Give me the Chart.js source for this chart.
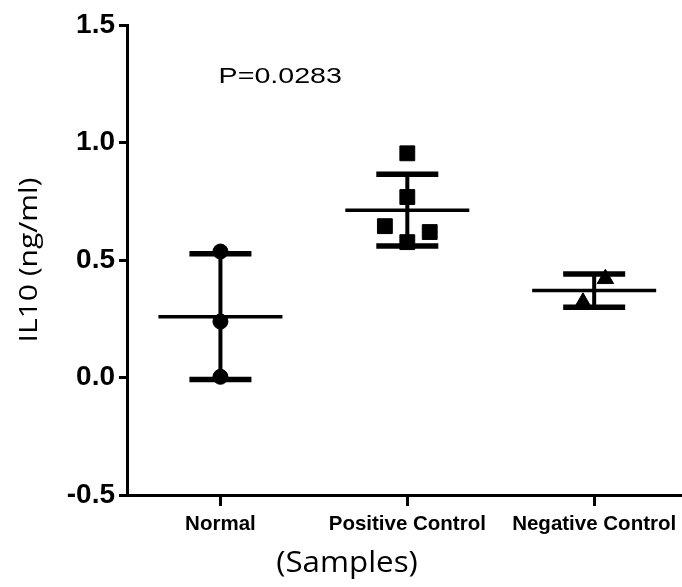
<!DOCTYPE html>
<html>
<head>
<meta charset="utf-8">
<title>IL10</title>
<script src="https://cdn.jsdelivr.net/npm/chart.js@4.4.1/dist/chart.umd.min.js"></script>
<style>
  html, body { margin: 0; padding: 0; background: #fff; }
  #wrap { width: 682px; height: 587px; position: relative; }
</style>
</head>
<body>
<div id="wrap"><canvas id="chartIL10"></canvas></div>
<script>
// IL10 per sample group (ng/ml)
const categories = ['Normal', 'Positive Control', 'Negative Control'];
const normalValues = [0.536, 0.238, 0.003];
const positiveValues = [0.954, 0.768, 0.644, 0.619, 0.576];
const negativeValues = [0.42, 0.32];
const yTicks = [-0.5, 0, 0.5, 1.0, 1.5];
const pValueText = 'P=0.0283';

const groups = [normalValues, positiveValues, negativeValues];
const markers = ['circle', 'rect', 'triangle'];
const markerSizes = [7.5, 10.5, 9.5];

// spread points that would overlap sideways (column scatter style)
let spread = (values, index) => {
  const minGap = 0.11, step = 0.12;
  const order = values.map((v, i) => i).sort((a, b) => values[a] - values[b]);
  const slots = new Array(values.length);
  const placed = [];
  order.forEach(i => {
    const tries = [0, 1, -1, 2, -2, 3, -3];
    const s = tries.find(t => !placed.some(p => p.slot === t && Math.abs(p.v - values[i]) < minGap));
    slots[i] = s;
    placed.push({ slot: s, v: values[i] });
  });
  const shift = (Math.min(...slots) + Math.max(...slots)) / 2;
  return values.map((v, i) => ({ x: index + (slots[i] - shift) * step, y: v }));
};

// mean line + SD whiskers for every group
const errorBars = {
  id: 'errorBars',
  afterDatasetsDraw(chart) {
    const { ctx, scales: { x, y } } = chart;
    ctx.save();
    ctx.strokeStyle = '#000';
    ctx.lineCap = 'butt';
    groups.forEach((vals, i) => {
      const mean = vals.reduce((a, b) => a + b, 0) / vals.length;
      const sd = Math.sqrt(vals.reduce((a, b) => a + (b - mean) ** 2, 0) / (vals.length - 1));
      const cx = x.getPixelForValue(i);
      const yTop = y.getPixelForValue(mean + sd);
      const yBot = y.getPixelForValue(mean - sd);
      const yMean = y.getPixelForValue(mean);
      const line = (x1, y1, x2, y2, w) => {
        ctx.lineWidth = w;
        ctx.beginPath();
        ctx.moveTo(x1, y1);
        ctx.lineTo(x2, y2);
        ctx.stroke();
      };
      line(cx, yTop, cx, yBot, 4);
      line(cx - 31, yTop, cx + 31, yTop, 5.5);
      line(cx - 31, yBot, cx + 31, yBot, 5.5);
      line(cx - 62, yMean, cx + 62, yMean, 3.5);
    });
    ctx.restore();
  }
};

// axis titles and the p value
const labels = {
  id: 'labels',
  afterDraw(chart) {
    const { ctx, chartArea, scales: { x, y } } = chart;
    ctx.save();
    ctx.fillStyle = '#000';
    ctx.textAlign = 'center';
    ctx.textBaseline = 'middle';

    // y title
    ctx.save();
    ctx.translate(30, (chartArea.top + chartArea.bottom) / 2);
    ctx.rotate(-Math.PI / 2);
    ctx.scale(1.2, 1);
    ctx.font = '25px "Open Sans"';
    ctx.fillText('IL10 (ng/ml)', 0, 0);
    ctx.restore();

    // x title
    ctx.save();
    ctx.translate(347, 564);
    ctx.scale(1.08, 1);
    ctx.font = '29px "Open Sans"';
    ctx.fillText('(Samples)', 0, 0);
    ctx.restore();

    // p value
    ctx.save();
    ctx.translate(x.getPixelForValue(0.32), y.getPixelForValue(1.28));
    ctx.scale(1.3, 1);
    ctx.font = '22px "Liberation Sans", Arial, sans-serif';
    ctx.fillText(pValueText, 0, 0);
    ctx.restore();

    ctx.restore();
  }
};

const datasets = groups.map((vals, i) => ({
  label: categories[i],
  data: spread(vals, i),
  pointStyle: markers[i],
  pointRadius: markerSizes[i],
  pointBackgroundColor: '#000',
  pointBorderColor: '#000',
  pointBorderWidth: 1
}));

const axisBlack = { display: true, color: '#000', width: 3 };

new Chart(document.getElementById('chartIL10'), {
  type: 'scatter',
  data: { datasets: datasets },
  options: {
    responsive: true,
    maintainAspectRatio: false,
    animation: false,
    layout: { autoPadding: false, padding: { left: 57, top: 25, right: 0, bottom: 0 } },
    plugins: { legend: { display: false }, tooltip: { enabled: false } },
    scales: {
      x: {
        type: 'linear',
        min: -0.5,
        max: 2.47,
        afterFit: s => { s.height = 92; s.paddingLeft = 0; s.paddingRight = 0; },
        afterBuildTicks: s => { s.ticks = categories.map((c, i) => ({ value: i })); },
        ticks: {
          callback: v => categories[v],
          color: '#000',
          padding: 6,
          maxRotation: 0,
          font: { family: '"Liberation Sans", Arial, sans-serif', size: 20.5, weight: 'bold' }
        },
        grid: { drawOnChartArea: false, drawTicks: true, tickLength: 11, color: '#000', lineWidth: 3 },
        border: axisBlack
      },
      y: {
        min: -0.5,
        max: 1.5,
        afterFit: s => { s.width = 70; },
        afterBuildTicks: s => { s.ticks = yTicks.map(v => ({ value: v })); },
        ticks: {
          callback: v => v.toFixed(1),
          color: '#000',
          padding: 4,
          font: { family: '"Liberation Sans", Arial, sans-serif', size: 28, weight: 'bold' }
        },
        grid: { drawOnChartArea: false, drawTicks: true, tickLength: 8, color: '#000', lineWidth: 3 },
        border: axisBlack
      }
    }
  },
  plugins: [errorBars, labels]
});
</script>
</body>
</html>
